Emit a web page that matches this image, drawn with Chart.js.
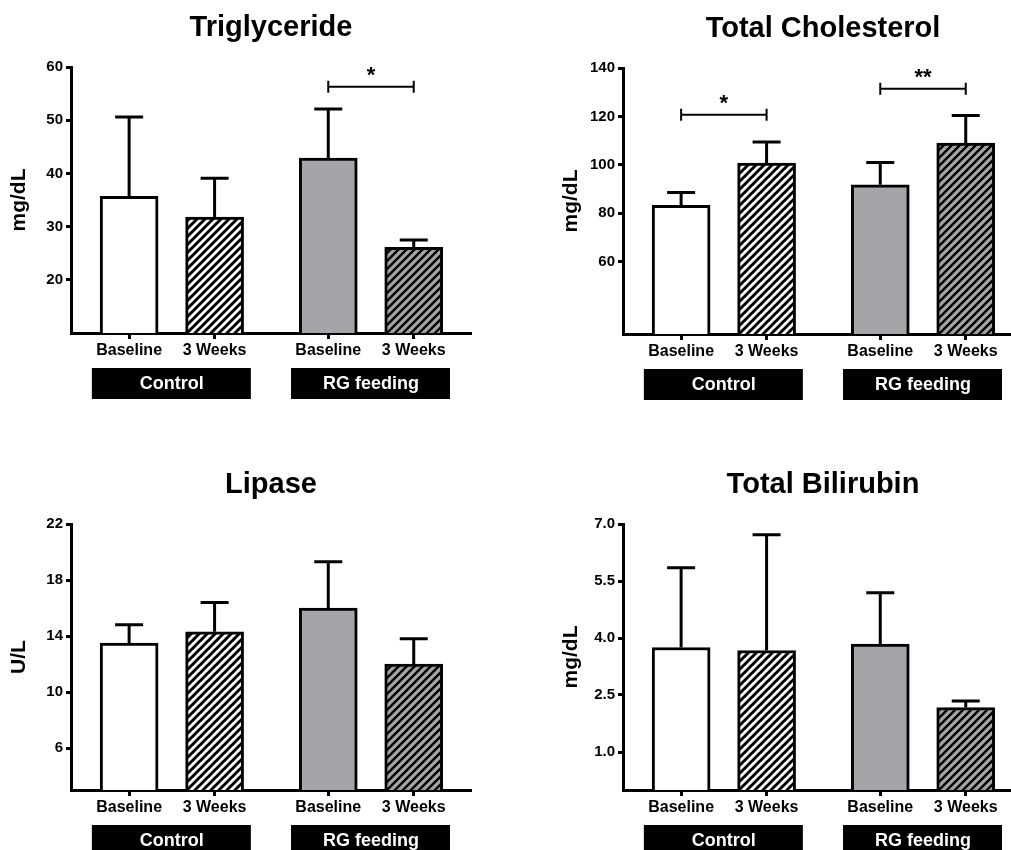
<!DOCTYPE html>
<html>
<head>
<meta charset="utf-8">
<script src="https://cdn.jsdelivr.net/npm/chart.js@4.4.0/dist/chart.umd.min.js"></script>
<style>
    html, body { margin: 0; padding: 0; background: #fff; width: 1011px; height: 850px; overflow: hidden; }
    .panel { position: absolute; width: 500px; height: 420px; }
</style>
</head>
<body>
<div class="panel" style="left:0; top:0"><canvas id="trig" width="500" height="420"></canvas></div>
<div class="panel" style="left:552px; top:1px"><canvas id="chol" width="500" height="420"></canvas></div>
<div class="panel" style="left:0; top:457px"><canvas id="lip" width="500" height="420"></canvas></div>
<div class="panel" style="left:552px; top:457px"><canvas id="bili" width="500" height="420"></canvas></div>
<script>
// ==========================================
// Serum chemistry: baseline vs 3 weeks, Control vs RG feeding
// ==========================================

const barLabels = ['Baseline', '3 Weeks', 'Baseline', '3 Weeks'];
const groupLabels = ['Control', 'RG feeding'];

const trigMean = [35.7, 31.8, 42.9, 26.1];
const trigSem = [14.9, 7.3, 9.2, 1.4];
const trigTicks = [20, 30, 40, 50, 60];
const trigSig = [{ from: 2, to: 3, y: 56.3, text: '*' }];

const cholMean = [83.2, 100.7, 91.7, 109.0];
const cholSem = [5.3, 8.7, 9.2, 11.4];
const cholTicks = [60, 80, 100, 120, 140];
const cholSig = [
    { from: 0, to: 1, y: 120.7, text: '*' },
    { from: 2, to: 3, y: 131.4, text: '**' }
];

const lipMean = [13.5, 14.3, 16.0, 12.0];
const lipSem = [1.3, 2.1, 3.3, 1.8];
const lipTicks = [6, 10, 14, 18, 22];

const biliMean = [3.75, 3.67, 3.84, 2.17];
const biliSem = [2.10, 3.05, 1.35, 0.17];
const biliTicks = [1.0, 2.5, 4.0, 5.5, 7.0];

const FONT = "'Liberation Sans', Arial, Helvetica, sans-serif";
Chart.defaults.font.family = FONT;
Chart.defaults.color = '#000';

// bar slots: two bars per group, wider gap between groups
const groupGap = 1.33;
const xPos = barLabels.map((_, i) => Math.floor(i / 2) * groupGap + (i % 2) + Math.floor(i / 2));

function makeHatch(bg, lineColor, lw) {
    const size = 8;
    const c = document.createElement('canvas');
    c.width = size;
    c.height = size;
    const g = c.getContext('2d');
    g.fillStyle = bg;
    g.fillRect(0, 0, size, size);
    g.strokeStyle = lineColor;
    g.lineWidth = lw;
    g.beginPath();
    g.moveTo(-2, size + 2); g.lineTo(size + 2, -2);
    g.moveTo(-2, 2); g.lineTo(2, -2);
    g.moveTo(size - 2, size + 2); g.lineTo(size + 2, size - 2);
    g.stroke();
    return g.createPattern(c, 'repeat');
}

const barFills = [
    '#ffffff',
    makeHatch('#ffffff', '#000000', 3.0),
    '#a5a4a9',
    makeHatch('#a2a2a4', '#000000', 2.3)
];

function createPanel(canvasId, title, unit, means, sems, ticks, yMin, sig, decimals) {
    const canvas = document.getElementById(canvasId);
    const ctx = canvas.getContext('2d');

    // error bars, significance brackets and group boxes
    const extras = {
        id: 'extras',
        afterDatasetsDraw(chart) {
            const c = chart.ctx;
            const y = chart.scales.y;
            const x = chart.scales.x;
            const meta = chart.getDatasetMeta(0);
            c.save();
            c.strokeStyle = '#000';
            c.lineWidth = 3;
            meta.data.forEach((bar, i) => {
                const top = y.getPixelForValue(means[i] + sems[i]);
                c.beginPath();
                c.moveTo(bar.x, bar.y);
                c.lineTo(bar.x, top);
                c.moveTo(bar.x - 14, top);
                c.lineTo(bar.x + 14, top);
                c.stroke();
            });

            c.lineWidth = 2;
            c.fillStyle = '#000';
            c.font = 'bold 22px ' + FONT;
            c.textAlign = 'center';
            c.textBaseline = 'alphabetic';
            (sig || []).forEach(s => {
                const x1 = x.getPixelForValue(xPos[s.from]);
                const x2 = x.getPixelForValue(xPos[s.to]);
                const py = y.getPixelForValue(s.y);
                c.beginPath();
                c.moveTo(x1, py); c.lineTo(x2, py);
                c.moveTo(x1, py - 6); c.lineTo(x1, py + 6);
                c.moveTo(x2, py - 6); c.lineTo(x2, py + 6);
                c.stroke();
                c.fillText(s.text, (x1 + x2) / 2, py - 5);
            });
            c.restore();
        },
        afterDraw(chart) {
            const c = chart.ctx;
            const x = chart.scales.x;
            const area = chart.chartArea;
            c.save();
            groupLabels.forEach((name, g) => {
                const mid = (x.getPixelForValue(xPos[g * 2]) + x.getPixelForValue(xPos[g * 2 + 1])) / 2;
                c.fillStyle = '#000';
                c.fillRect(mid - 80, area.bottom + 35, 159, 31);
                c.fillStyle = '#fff';
                c.font = 'bold 18px ' + FONT;
                c.textAlign = 'center';
                c.textBaseline = 'middle';
                c.fillText(name, mid, area.bottom + 51);
            });
            c.restore();
        }
    };

    return new Chart(ctx, {
        type: 'bar',
        data: {
            datasets: [{
                data: means.map((v, i) => ({ x: xPos[i], y: v })),
                backgroundColor: barFills,
                borderColor: '#000',
                borderWidth: 3,
                barThickness: 58
            }]
        },
        options: {
            responsive: false,
            animation: false,
            events: [],
            layout: { padding: { left: 0, right: 29, top: 11, bottom: 0 } },
            plugins: {
                legend: { display: false },
                tooltip: { enabled: false },
                title: {
                    display: true,
                    text: title,
                    fullSize: false,
                    color: '#000',
                    font: { size: 29, weight: 'bold' },
                    padding: { top: 0, bottom: 21.2 }
                }
            },
            scales: {
                x: {
                    type: 'linear',
                    min: -0.68,
                    max: 4.0,
                    offset: false,
                    afterBuildTicks: scale => { scale.ticks = xPos.map(v => ({ value: v })); },
                    afterFit: scale => { scale.height = 87; },
                    grid: { drawOnChartArea: false, offset: false, tickLength: 6, tickWidth: 3, tickColor: '#000' },
                    border: { display: true, width: 3, color: '#000' },
                    ticks: {
                        autoSkip: false,
                        maxRotation: 0,
                        padding: 2,
                        color: '#000',
                        font: { size: 16, weight: 'bold' },
                        callback: (value, index) => barLabels[index]
                    }
                },
                y: {
                    min: yMin,
                    max: ticks[ticks.length - 1],
                    afterBuildTicks: scale => { scale.ticks = ticks.map(v => ({ value: v })); },
                    afterFit: scale => { scale.width = 71; },
                    grid: { drawOnChartArea: false, tickLength: 5, tickWidth: 3, tickColor: '#000' },
                    border: { display: true, width: 3, color: '#000' },
                    title: {
                        display: true,
                        text: unit,
                        color: '#000',
                        font: { size: 21, weight: 'bold' },
                        padding: { top: 7, bottom: 0 }
                    },
                    ticks: {
                        padding: 3,
                        color: '#000',
                        font: { size: 15, weight: 'bold' },
                        callback: value => value.toFixed(decimals)
                    }
                }
            }
        },
        plugins: [extras]
    });
}

createPanel('trig', 'Triglyceride', 'mg/dL', trigMean, trigSem, trigTicks, 10, trigSig, 0);
createPanel('chol', 'Total Cholesterol', 'mg/dL', cholMean, cholSem, cholTicks, 30, cholSig, 0);
createPanel('lip', 'Lipase', 'U/L', lipMean, lipSem, lipTicks, 3, null, 0);
createPanel('bili', 'Total Bilirubin', 'mg/dL', biliMean, biliSem, biliTicks, 0, null, 1);
</script>
</body>
</html>
